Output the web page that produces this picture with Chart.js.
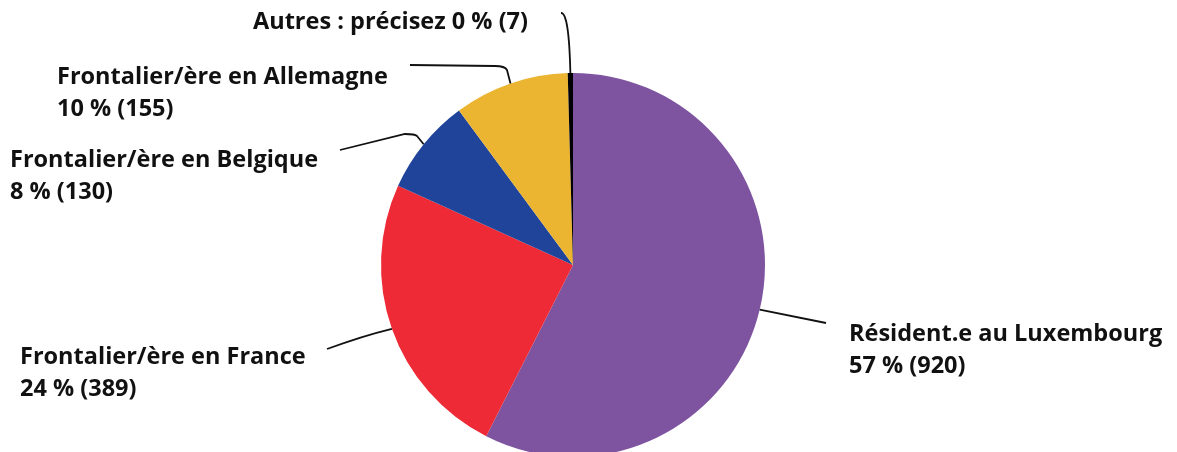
<!DOCTYPE html>
<html>
<head>
<meta charset="utf-8">
<script src="https://cdn.jsdelivr.net/npm/chart.js@4"></script>
<style>
  html, body { margin: 0; padding: 0; background: #fff; overflow: hidden; }
  #wrap { width: 1177px; height: 530px; }
</style>
</head>
<body>
<div id="wrap"><canvas id="grafica" width="1177" height="530"></canvas></div>
<script>
const categorias = ["Résident.e au Luxembourg", "Frontalier/ère en France", "Frontalier/ère en Belgique", "Frontalier/ère en Allemagne", "Autres : précisez"];
const valores = [920, 389, 130, 155, 7];
const colores = ["#7E54A1", "#EE2A36", "#20449A", "#EBB532", "#000000"];

// where each label sits and how its leader line runs (pixels)
const etiquetas = [
  { x: 849, y: 334, oneLine: false, path: [[826, 323]] },
  { x: 20, y: 357, oneLine: false, path: [[362, 336], [327, 349]] },
  { x: 10, y: 160, oneLine: false, path: [[417, 136], [405, 134], [340, 150]] },
  { x: 57, y: 77, oneLine: false, path: [[507, 70], [495, 66], [410, 65]] },
  { x: 253, y: 22, oneLine: true, path: [[569, 12], [561, 13]] }
];

const total = valores.reduce((a, b) => a + b, 0);

const lineasEtiquetas = {
  id: 'lineasEtiquetas',
  afterDraw(chart) {
    const ctx = chart.ctx;
    const meta = chart.getDatasetMeta(0);
    ctx.save();
    ctx.font = "bold 23.5px 'Open Sans', sans-serif";
    ctx.textBaseline = 'middle';
    ctx.fillStyle = '#111';
    ctx.strokeStyle = '#111';
    ctx.lineWidth = 1.8;
    meta.data.forEach((arc, i) => {
      const mid = (arc.startAngle + arc.endAngle) / 2;
      const sx = arc.x + Math.cos(mid) * arc.outerRadius;
      const sy = arc.y + Math.sin(mid) * arc.outerRadius;
      const e = etiquetas[i];
      ctx.beginPath();
      ctx.moveTo(sx, sy);
      const p = e.path;
      if (p.length === 3) {
        ctx.lineTo(p[0][0], p[0][1]);
        ctx.quadraticCurveTo(p[0][0] - 2, p[1][1], p[1][0], p[1][1]);
        ctx.lineTo(p[2][0], p[2][1]);
      } else if (p.length === 2) {
        ctx.quadraticCurveTo(p[0][0], p[0][1], p[1][0], p[1][1]);
      } else {
        ctx.lineTo(p[0][0], p[0][1]);
      }
      ctx.stroke();
      const pct = Math.round(valores[i] / total * 100);
      ctx.textAlign = 'left';
      if (e.oneLine) {
        ctx.fillText(categorias[i] + ' ' + pct + ' % (' + valores[i] + ')', e.x, e.y);
      } else {
        ctx.fillText(categorias[i], e.x, e.y);
        ctx.fillText(pct + ' % (' + valores[i] + ')', e.x, e.y + 32);
      }
    });
    ctx.restore();
  }
};

const grafica = document.getElementById('grafica');
var chart = new Chart(grafica, {
  type: 'pie',
  data: {
    labels: categorias,
    datasets: [{
      data: valores,
      backgroundColor: colores,
      borderWidth: 0
    }]
  },
  options: {
    responsive: false,
    animation: false,
    layout: { padding: { top: 73, bottom: 73, left: 0, right: 31 } },
    plugins: {
      legend: { display: false },
      tooltip: { enabled: false }
    }
  },
  plugins: [lineasEtiquetas]
});
</script>
</body>
</html>
